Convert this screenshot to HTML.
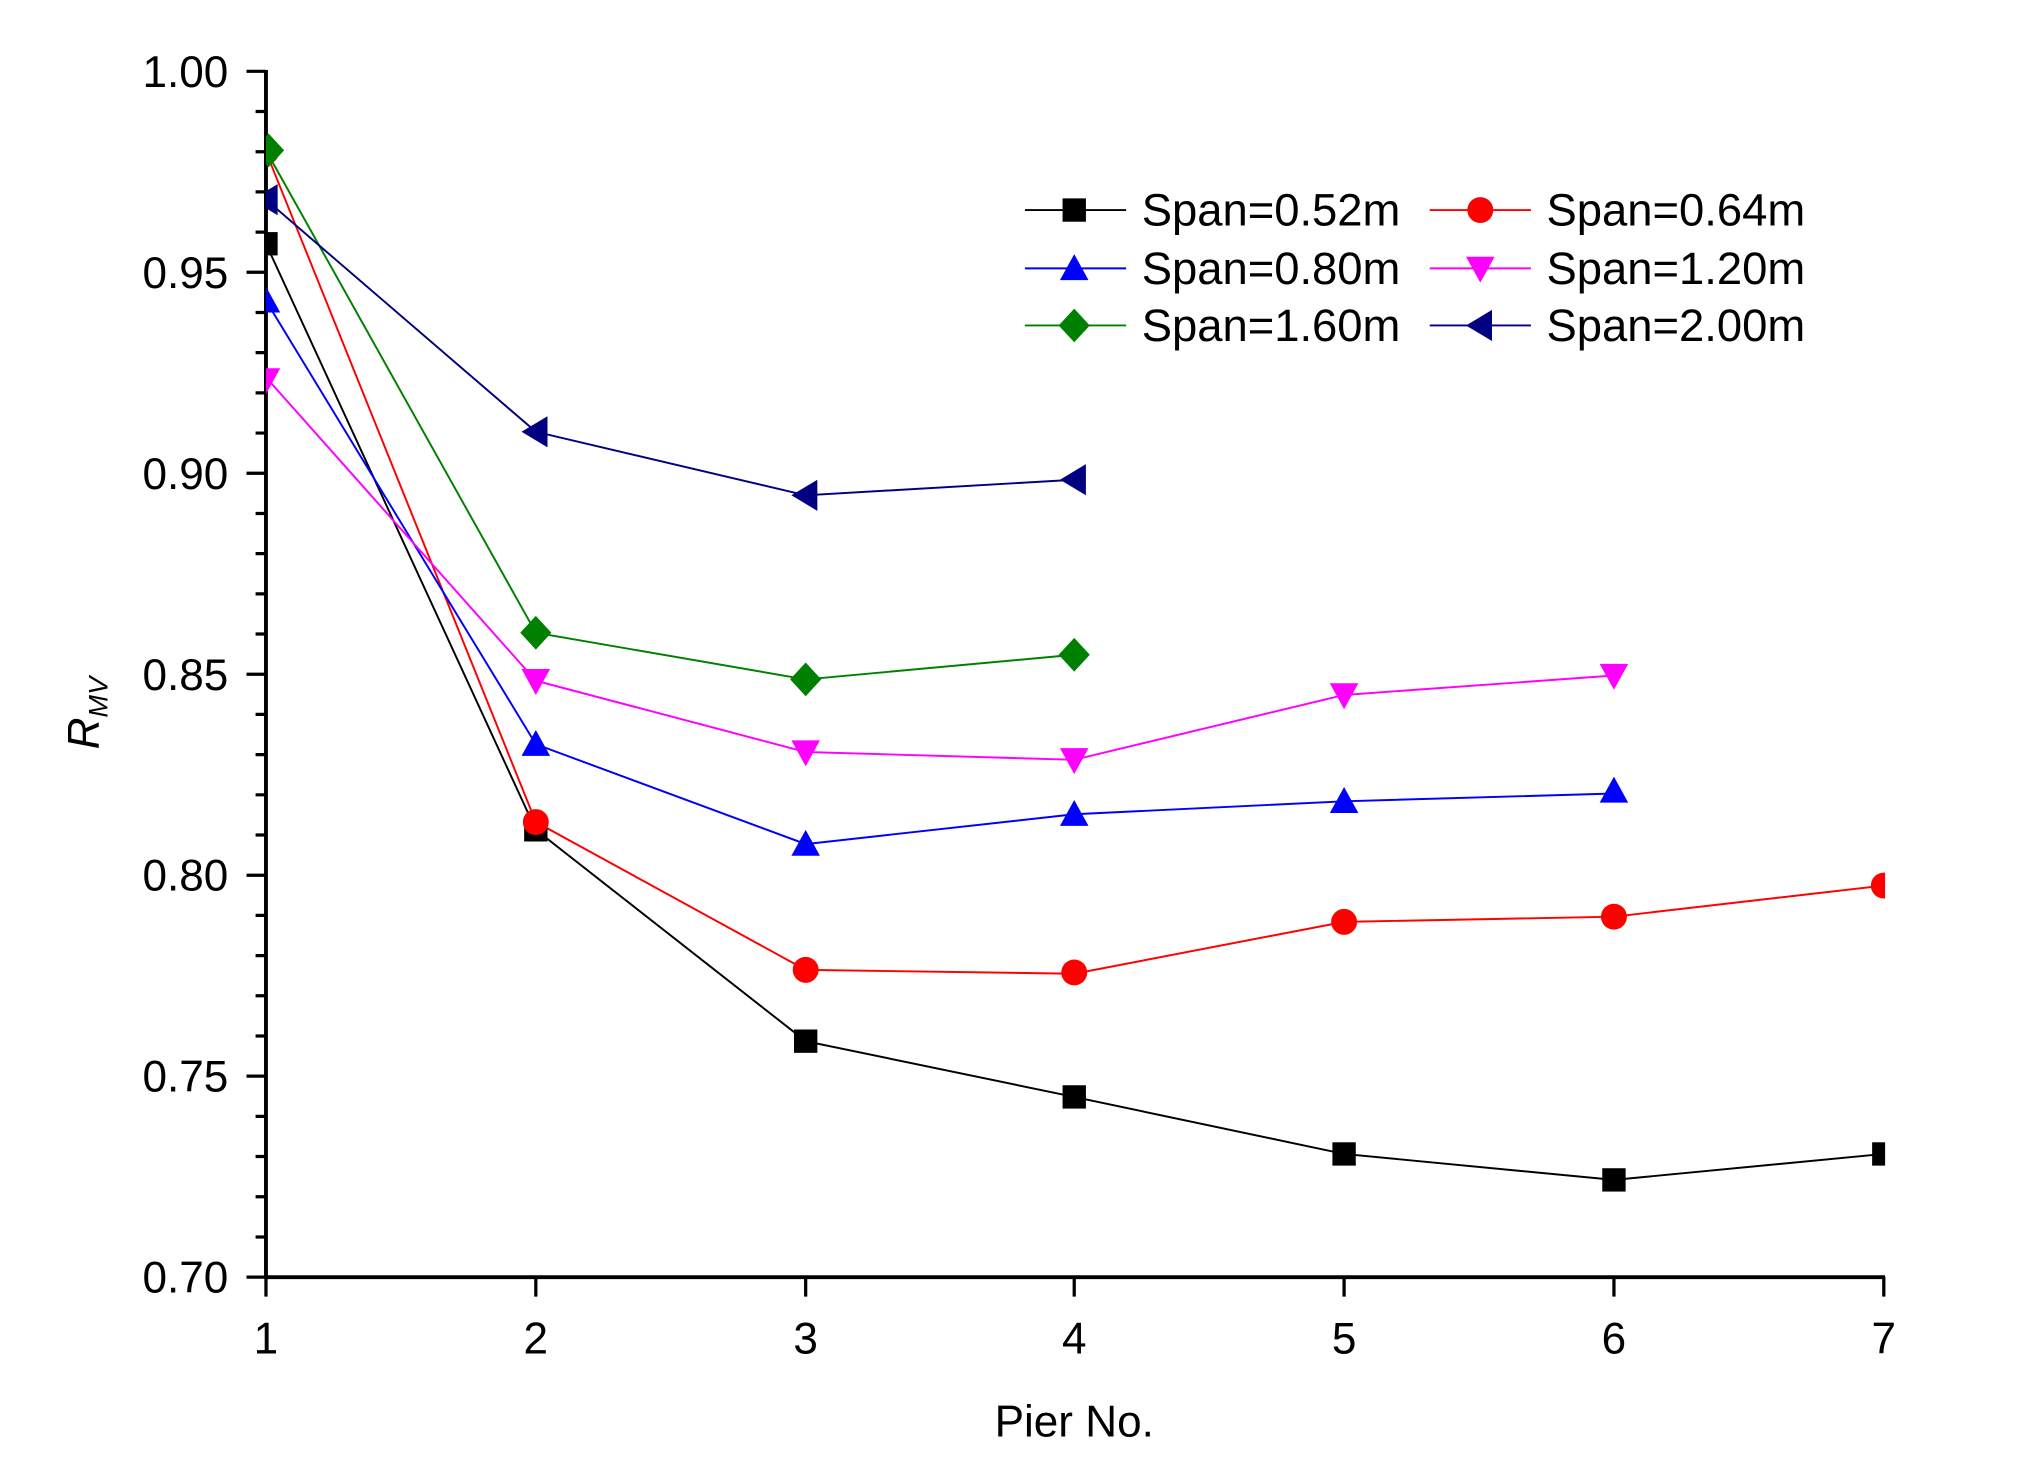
<!DOCTYPE html>
<html><head><style>html,body{margin:0;padding:0;background:#fff}svg{display:block}</style></head>
<body>
<svg width="2033" height="1482" viewBox="0 0 1567 1143" preserveAspectRatio="none" xmlns="http://www.w3.org/2000/svg" font-family="Liberation Sans, sans-serif">
<rect width="1567" height="1143" fill="#fff"/>
<defs><clipPath id="c"><rect x="205" y="20" width="1248" height="966"/></clipPath>
<g id="sq"><rect x="-9" y="-9" width="18" height="18"/></g>
<g id="ci"><circle r="10"/></g>
<g id="up"><path d="M0,-11 L11,9 L-11,9Z"/></g>
<g id="dn"><path d="M0,11 L11,-9 L-11,-9Z"/></g>
<g id="di"><path d="M0,-13 L12,0 L0,13 L-12,0Z"/></g>
<g id="lt"><path d="M-11,0 L9,-12 L9,12Z"/></g>
</defs>
<g stroke="#000" stroke-width="3">
<line x1="205" y1="54" x2="205" y2="986"/>
<line x1="204" y1="985" x2="1453" y2="985"/>
</g>
<g stroke="#000" stroke-width="2.5">
<path d="M190,55H205M190,210H205M190,365H205M190,520H205M190,675H205M190,830H205M190,985H205"/>
<path d="M197,86H205M197,117H205M197,148H205M197,179H205M197,241H205M197,272H205M197,303H205M197,334H205M197,396H205M197,427H205M197,458H205M197,489H205M197,551H205M197,582H205M197,613H205M197,644H205M197,706H205M197,737H205M197,768H205M197,799H205M197,861H205M197,892H205M197,923H205M197,954H205"/>
<path d="M205,985V1000M413,985V1000M621,985V1000M828,985V1000M1036,985V1000M1244,985V1000M1452,985V1000"/>
</g>
<g font-size="34" text-anchor="end" fill="#000">
<text x="176" y="67">1.00</text><text x="176" y="222">0.95</text><text x="176" y="377">0.90</text><text x="176" y="532">0.85</text><text x="176" y="687">0.80</text><text x="176" y="842">0.75</text><text x="176" y="997">0.70</text>
</g>
<g font-size="34" text-anchor="middle" fill="#000">
<text x="205" y="1044">1</text><text x="413" y="1044">2</text><text x="621" y="1044">3</text><text x="828" y="1044">4</text><text x="1036" y="1044">5</text><text x="1244" y="1044">6</text><text x="1452" y="1044">7</text>
<text x="828" y="1108">Pier No.</text>
</g>
<text transform="translate(76,578) rotate(-90)" font-size="34" font-style="italic">R<tspan font-size="21" dy="7">MV</tspan></text>
<g clip-path="url(#c)" stroke-width="1.5" fill="none">
<polyline stroke="#000" points="205,188 413,640 621,803 828,846 1036,890 1244,910 1452,890"/>
<polyline stroke="#f00" points="205,117 413,634 621,748 828,751 1036,711 1244,707 1452,683"/>
<polyline stroke="#00f" points="205,232 413,574 621,651 828,628 1036,618 1244,612"/>
<polyline stroke="#f0f" points="205,291 413,525 621,580 828,586 1036,536 1244,521"/>
<polyline stroke="#008000" points="205,116 413,488 621,524 828,505"/>
<polyline stroke="#000080" points="205,154 413,333 621,382 828,370"/>
</g>
<g clip-path="url(#c)">
<g fill="#000"><use href="#sq" x="205" y="188"/><use href="#sq" x="413" y="640"/><use href="#sq" x="621" y="803"/><use href="#sq" x="828" y="846"/><use href="#sq" x="1036" y="890"/><use href="#sq" x="1244" y="910"/><use href="#sq" x="1452" y="890"/></g>
<g fill="#f00"><use href="#ci" x="205" y="117"/><use href="#ci" x="413" y="634"/><use href="#ci" x="621" y="748"/><use href="#ci" x="828" y="750"/><use href="#ci" x="1036" y="711"/><use href="#ci" x="1244" y="707"/><use href="#ci" x="1452" y="683"/></g>
<g fill="#00f"><use href="#up" x="205" y="232"/><use href="#up" x="413" y="574"/><use href="#up" x="621" y="651"/><use href="#up" x="828" y="628"/><use href="#up" x="1036" y="618"/><use href="#up" x="1244" y="610"/></g>
<g fill="#f0f"><use href="#dn" x="205" y="293"/><use href="#dn" x="413" y="525"/><use href="#dn" x="621" y="580"/><use href="#dn" x="828" y="586"/><use href="#dn" x="1036" y="536"/><use href="#dn" x="1244" y="521"/></g>
<g fill="#008000"><use href="#di" x="207" y="116"/><use href="#di" x="413" y="488"/><use href="#di" x="621" y="524"/><use href="#di" x="828" y="505"/></g>
<g fill="#000080"><use href="#lt" x="205" y="154"/><use href="#lt" x="413" y="333"/><use href="#lt" x="621" y="382"/><use href="#lt" x="828" y="370"/></g>
</g>
<g stroke-width="1.5">
<line x1="790" y1="162" x2="868" y2="162" stroke="#000"/><use href="#sq" x="828" y="162" fill="#000"/>
<line x1="1102" y1="162" x2="1180" y2="162" stroke="#f00"/><use href="#ci" x="1141" y="162" fill="#f00"/>
<line x1="790" y1="207" x2="868" y2="207" stroke="#00f"/><use href="#up" x="828" y="207" fill="#00f"/>
<line x1="1102" y1="207" x2="1180" y2="207" stroke="#f0f"/><use href="#dn" x="1141" y="207" fill="#f0f"/>
<line x1="790" y1="251" x2="868" y2="251" stroke="#008000"/><use href="#di" x="828" y="251" fill="#008000"/>
<line x1="1102" y1="251" x2="1180" y2="251" stroke="#000080"/><use href="#lt" x="1141" y="251" fill="#000080"/>
</g>
<g font-size="35" fill="#000">
<text x="880" y="174">Span=0.52m</text><text x="1192" y="174">Span=0.64m</text>
<text x="880" y="219">Span=0.80m</text><text x="1192" y="219">Span=1.20m</text>
<text x="880" y="263">Span=1.60m</text><text x="1192" y="263">Span=2.00m</text>
</g>
</svg>
</body></html>
